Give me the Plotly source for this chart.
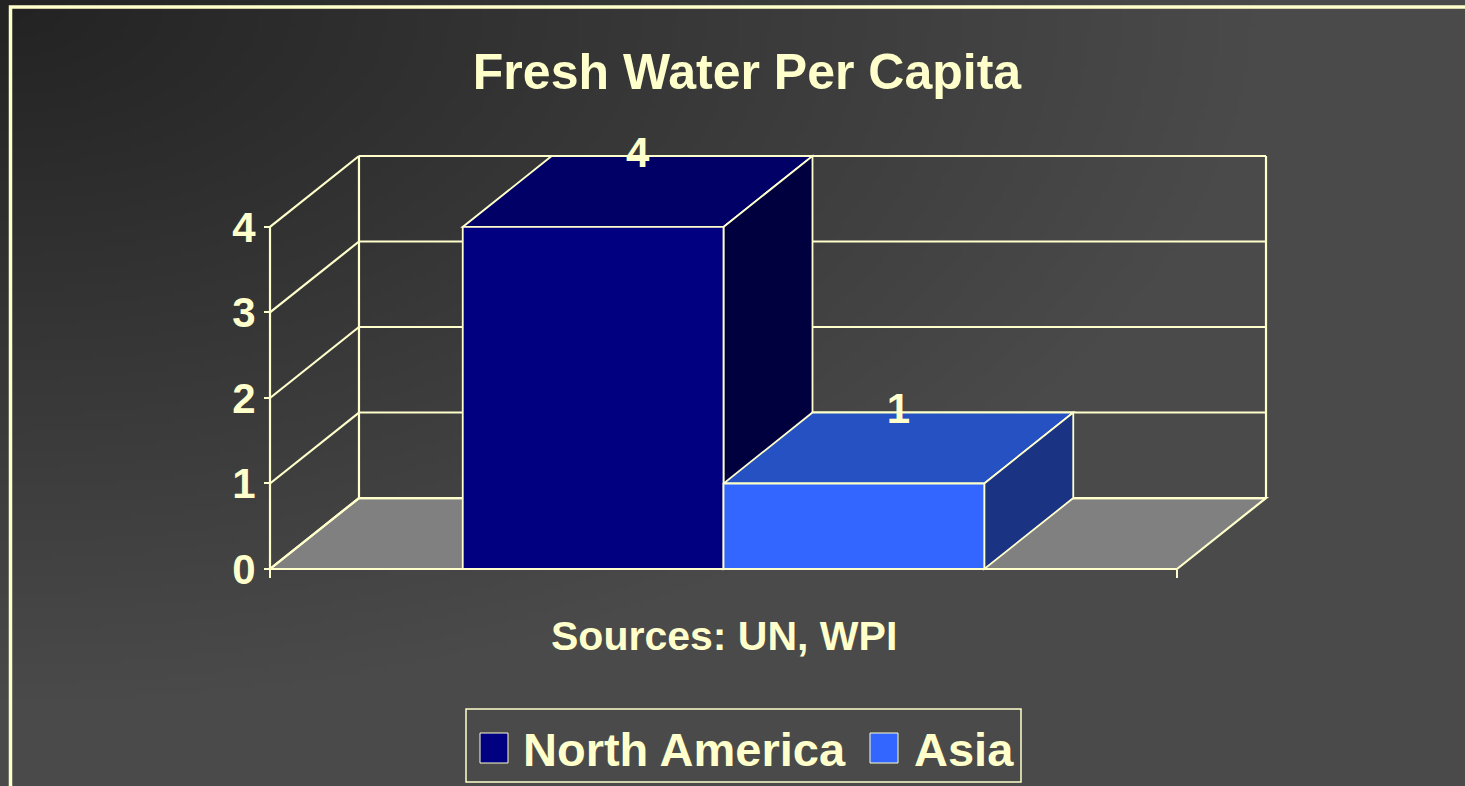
import base64
import struct
import zlib

import numpy as np
import plotly.graph_objects as go

# ---------------- data ----------------
series_names = ["North America", "Asia"]
series_values = [4, 1]
y_ticks = [0, 1, 2, 3, 4]
y_tick_labels = ["0", "1", "2", "3", "4"]
title_text = "Fresh Water Per Capita"
source_text = "Sources: UN, WPI"

# ---------------- style ----------------
front_colors = ["#000080", "#3366FF"]
top_colors = ["#000066", "#2651C2"]
side_colors = ["#00003F", "#1A3382"]
CREAM = "#FFFFCC"
FLOOR = "#808080"
FONT = "Liberation Sans, Arial, sans-serif"

W, H = 1465, 786
DX = 0.0981      # 3-D depth offset, category units
DY = 0.83        # 3-D depth offset, value units
BARGAP = 0.425
PADX = 4 / 907
PADY = 4 / 85.5

x_range = [-0.5 - PADX, 0.5 + DX + PADX]
y_range = [-PADY, max(y_ticks) + DY + PADY]

ML, MR, MT, MB = 266, 195, 152, 213
PW = W - ML - MR
PH = H - MT - MB


def px(x):
    return (x - ML) / PW


def py(y):
    return (H - MB - y) / PH


# ---------------- background gradient (PNG data URI) ----------------
def make_png(arr):
    h, w = arr.shape
    raw = b"".join(b"\x00" + arr[r].tobytes() for r in range(h))

    def chunk(t, d):
        return struct.pack(">I", len(d)) + t + d + struct.pack(">I", zlib.crc32(t + d) & 0xFFFFFFFF)

    return (b"\x89PNG\r\n\x1a\n" + chunk(b"IHDR", struct.pack(">IIBBBBB", w, h, 8, 0, 0, 0, 0))
            + chunk(b"IDAT", zlib.compress(raw)) + chunk(b"IEND", b""))


gw, gh = 293, 158
gx = np.linspace(0, W, gw)[None, :]
gy = np.linspace(0, H, gh)[:, None]
t = np.clip(np.sqrt((gx / 1250.0) ** 2 + (gy / 700.0) ** 2), 0, 1)
grad = (0x23 + (0x4A - 0x23) * t).astype(np.uint8)
bg_uri = "data:image/png;base64," + base64.b64encode(make_png(grad)).decode()

# ---------------- figure ----------------
fig = go.Figure()

top = max(y_ticks)
xl, xr = -0.5, 0.5
shapes = []
line = dict(color=CREAM, width=2.2)

# floor
shapes.append(dict(type="path", xref="x", yref="y", layer="below",
                   path=f"M{xl},0 L{xr},0 L{xr + DX},{DY} L{xl + DX},{DY} Z",
                   fillcolor=FLOOR, line=line))
# side wall diagonals and back wall gridlines
for v in y_ticks:
    shapes.append(dict(type="line", xref="x", yref="y", layer="below",
                       x0=xl, y0=v, x1=xl + DX, y1=v + DY, line=line))
    shapes.append(dict(type="line", xref="x", yref="y", layer="below",
                       x0=xl + DX, y0=v + DY, x1=xr + DX, y1=v + DY, line=line))
# back wall verticals
for xe in (xl + DX, xr + DX):
    shapes.append(dict(type="line", xref="x", yref="y", layer="below",
                       x0=xe, y0=DY, x1=xe, y1=top + DY, line=line))
# front axes
shapes.append(dict(type="line", xref="x", yref="y", layer="below",
                   x0=xl, y0=0, x1=xl, y1=top, line=line))
shapes.append(dict(type="line", xref="x", yref="y", layer="below",
                   x0=xl, y0=0, x1=xr, y1=0, line=line))

n = len(series_values)
bw = (1 - BARGAP) / n
label_x, label_y = [], []
for i, (name, val) in enumerate(zip(series_names, series_values)):
    x0 = -(1 - BARGAP) / 2 + i * bw
    x1 = x0 + bw
    edge = dict(color=CREAM, width=1.8)
    # top face
    shapes.append(dict(type="path", xref="x", yref="y", layer="below",
                       path=f"M{x0},{val} L{x1},{val} L{x1 + DX},{val + DY} L{x0 + DX},{val + DY} Z",
                       fillcolor=top_colors[i], line=edge))
    # side face
    shapes.append(dict(type="path", xref="x", yref="y", layer="below",
                       path=f"M{x1},0 L{x1},{val} L{x1 + DX},{val + DY} L{x1 + DX},{DY} Z",
                       fillcolor=side_colors[i], line=edge))
    fig.add_trace(go.Bar(
        x=[0], y=[val], width=[bw], offset=[x0], name=name,
        marker=dict(color=front_colors[i], line=dict(color=CREAM, width=1.8)),
        showlegend=False,
    ))
    label_x.append((x0 + x1) / 2 + DX / 2)
    label_y.append(val + DY)

fig.add_trace(go.Scatter(
    x=label_x, y=label_y, mode="text",
    text=[str(v) for v in series_values],
    textposition="middle center", cliponaxis=False,
    textfont=dict(family=FONT, size=42, color=CREAM, weight="bold"),
    showlegend=False, hoverinfo="skip",
))

# outer frame
shapes.append(dict(type="rect", xref="paper", yref="paper", layer="below",
                   x0=px(10.5), y0=py(7), x1=px(1480), y1=py(800),
                   line=dict(color=CREAM, width=3.5), fillcolor="rgba(0,0,0,0)"))

# manual legend
shapes.append(dict(type="rect", xref="paper", yref="paper", layer="above",
                   x0=px(466), y0=py(709), x1=px(1021), y1=py(782),
                   line=dict(color=CREAM, width=1.5), fillcolor="rgba(0,0,0,0)"))
legend_sq_x = [480, 870]
legend_txt_x = [521, 912]
annotations = []
for i, name in enumerate(series_names):
    shapes.append(dict(type="rect", xref="paper", yref="paper", layer="above",
                       x0=px(legend_sq_x[i]), y0=py(733), x1=px(legend_sq_x[i] + 28), y1=py(763),
                       line=dict(color=CREAM, width=1), fillcolor=front_colors[i]))
    annotations.append(dict(xref="paper", yref="paper", x=px(legend_txt_x[i]), y=py(749),
                            xanchor="left", yanchor="middle", showarrow=False, text=name,
                            font=dict(family=FONT, size=47, color=CREAM, weight="bold")))

annotations.append(dict(xref="x", yref="paper", x=0, y=py(636), xanchor="center",
                        yanchor="middle", showarrow=False, text=source_text,
                        font=dict(family=FONT, size=41, color=CREAM, weight="bold")))

fig.update_layout(
    width=W, height=H,
    margin=dict(l=ML, r=MR, t=MT, b=MB, pad=0),
    paper_bgcolor="#3A3A3A",
    plot_bgcolor="rgba(0,0,0,0)",
    barmode="overlay",
    title=dict(text=title_text, x=747 / W, xanchor="center", xref="container",
               y=1 - 71 / H, yanchor="middle", yref="container",
               font=dict(family=FONT, size=50, color=CREAM, weight="bold")),
    xaxis=dict(range=x_range, showgrid=False, zeroline=False, showline=False,
               tickvals=[xl, xr], ticktext=["", ""], ticks="outside", ticklen=8,
               tickwidth=2, tickcolor=CREAM, anchor="free", position=4 / PH,
               fixedrange=True),
    yaxis=dict(range=y_range, showgrid=False, zeroline=False, showline=False,
               tickvals=y_ticks, ticktext=y_tick_labels, ticks="outside", ticklen=6,
               tickwidth=2, tickcolor=CREAM, anchor="free", position=4 / PW,
               tickfont=dict(family=FONT, size=42, color=CREAM, weight="bold"),
               fixedrange=True),
    shapes=shapes,
    annotations=annotations,
    images=[dict(source=bg_uri, xref="paper", yref="paper", x=px(0), y=py(0),
                 sizex=W / PW, sizey=H / PH, xanchor="left", yanchor="top",
                 sizing="stretch", layer="below")],
    showlegend=False,
)

fig.write_html("out.html", config={"displayModeBar": False},
               post_script="document.body.style.margin='0';document.body.style.overflow='hidden';")
